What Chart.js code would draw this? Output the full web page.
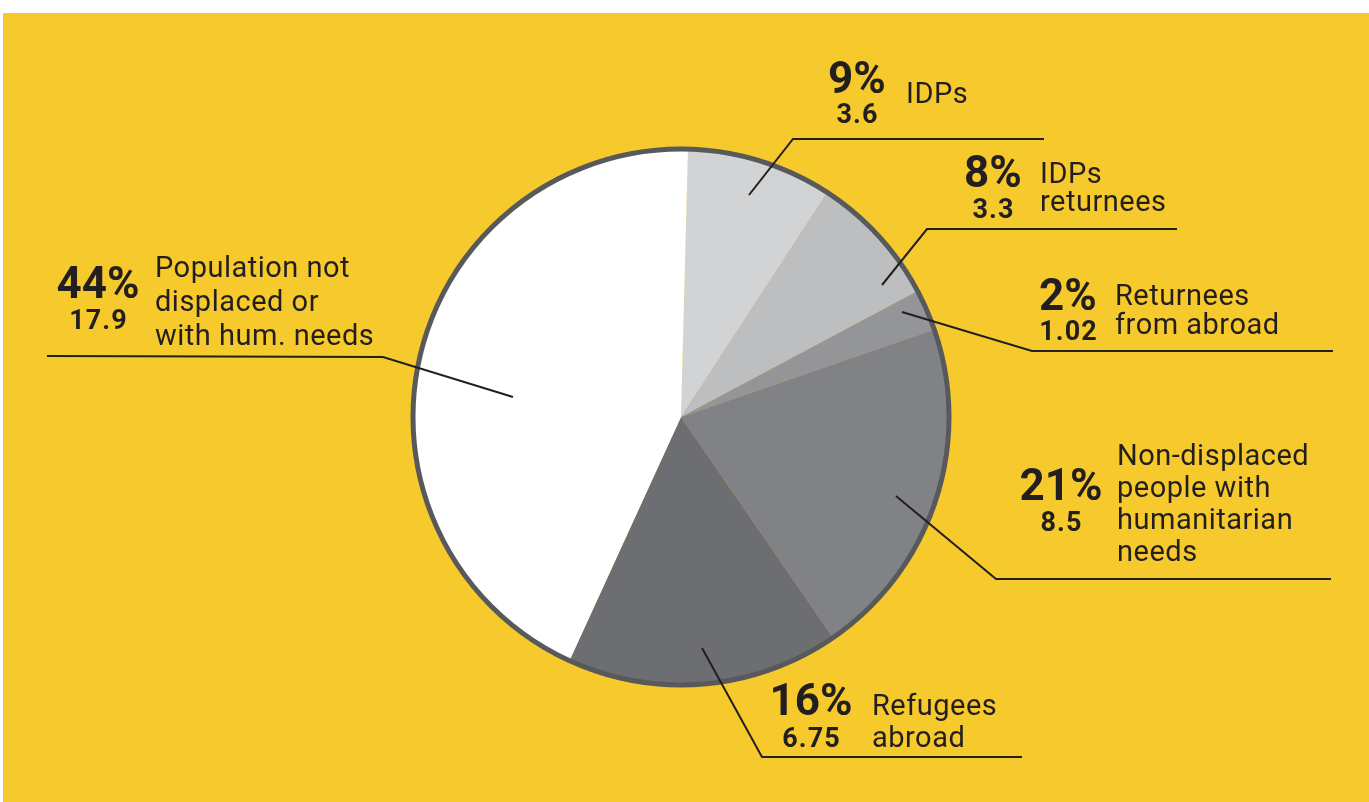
<!DOCTYPE html>
<html>
<head>
<meta charset="utf-8">
<script src="https://cdn.jsdelivr.net/npm/chart.js@4/dist/chart.umd.min.js"></script>
<style>
  html, body { margin: 0; padding: 0; background: #ffffff; }
  canvas { display: block; }
</style>
</head>
<body>
<canvas id="grafica" width="1369" height="802"></canvas>
<script>
// datos del grafico (millones de personas)
const categories = ['IDPs', 'IDPs returnees', 'Returnees from abroad', 'Non-displaced people with humanitarian needs', 'Refugees abroad', 'Population not displaced or with hum. needs'];
const values = [3.6, 3.3, 1.02, 8.5, 6.75, 17.9];
const labelLines = [
    ['IDPs'],
    ['IDPs', 'returnees'],
    ['Returnees', 'from abroad'],
    ['Non-displaced', 'people with', 'humanitarian', 'needs'],
    ['Refugees', 'abroad'],
    ['Population not', 'displaced or', 'with hum. needs']
];
const sliceColors = ['#d1d3d4', '#bcbec0', '#939598', '#808285', '#6d6e71', '#ffffff'];

// posiciones de las etiquetas y lineas guia
const labelLayout = [
    { cx: 857, pctY: 93, valY: 123, tx: 906, ty: 103, lh: 30, line: [[749, 195], [793, 139], [1044, 139]] },
    { cx: 993, pctY: 187, valY: 218, tx: 1040, ty: 183, lh: 28, line: [[882, 285], [927, 229], [1177, 229]] },
    { cx: 1068, pctY: 310, valY: 340, tx: 1115, ty: 305, lh: 29, line: [[902, 312], [1032, 351], [1333, 351]] },
    { cx: 1061, pctY: 500, valY: 531, tx: 1117, ty: 465, lh: 32, line: [[896, 496], [996, 579], [1331, 579]] },
    { cx: 811, pctY: 715, valY: 747, tx: 872, ty: 715, lh: 32, line: [[702, 648], [762, 757], [1022, 757]] },
    { cx: 98, pctY: 298, valY: 329, tx: 155, ty: 277, lh: 34, line: [[513, 397], [383, 357], [47, 356]] }
];

const total = values.reduce((a, b) => a + b, 0);

const fondo = {
    id: 'fondo',
    beforeDraw(chart) {
        const c = chart.ctx;
        c.save();
        c.fillStyle = '#ffffff';
        c.fillRect(0, 0, chart.width, chart.height);
        c.fillStyle = '#f6ca2c';
        c.fillRect(3, 13, chart.width - 3, chart.height - 13);
        c.restore();
    }
};

const etiquetas = {
    id: 'etiquetas',
    afterDatasetsDraw(chart) {
        const c = chart.ctx;
        const arc = chart.getDatasetMeta(0).data[0];
        c.save();
        // borde exterior del pastel
        c.beginPath();
        c.arc(arc.x, arc.y, arc.outerRadius, 0, Math.PI * 2);
        c.lineWidth = 5;
        c.strokeStyle = '#58595b';
        c.stroke();

        c.fillStyle = '#231f20';
        c.strokeStyle = '#231f20';
        c.lineWidth = 2;
        values.forEach((v, i) => {
            const l = labelLayout[i];
            c.beginPath();
            c.moveTo(l.line[0][0], l.line[0][1]);
            for (let k = 1; k < l.line.length; k++) c.lineTo(l.line[k][0], l.line[k][1]);
            c.stroke();

            c.textAlign = 'center';
            c.textBaseline = 'alphabetic';
            c.letterSpacing = '0px';
            c.font = 'bold 44px Roboto';
            c.fillText(Math.round(v / total * 100) + '%', l.cx, l.pctY);
            c.letterSpacing = '1px';
            c.font = 'bold 27px Roboto';
            c.fillText(String(v), l.cx + 0.5, l.valY);

            c.textAlign = 'left';
            c.letterSpacing = '0.5px';
            c.font = '29px Roboto';
            labelLines[i].forEach((t, j) => {
                c.fillText(t, l.tx, l.ty + j * l.lh);
            });
        });
        c.restore();
    }
};

const ctx = document.getElementById('grafica').getContext('2d');
new Chart(ctx, {
    type: 'pie',
    data: {
        labels: categories,
        datasets: [{
            data: values,
            backgroundColor: sliceColors,
            borderWidth: 0
        }]
    },
    options: {
        responsive: false,
        animation: false,
        events: [],
        rotation: 1.5,
        layout: { padding: { top: 149, bottom: 117, left: 413, right: 420 } },
        plugins: {
            legend: { display: false },
            tooltip: { enabled: false }
        }
    },
    plugins: [fondo, etiquetas]
});
</script>
</body>
</html>
